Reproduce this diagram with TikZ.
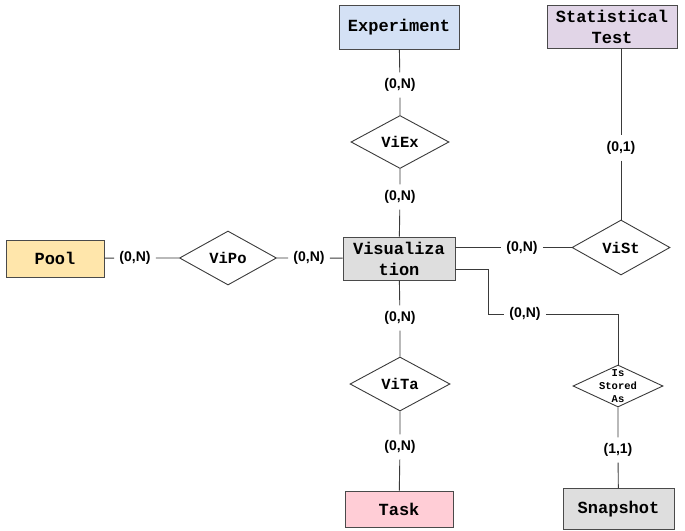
\documentclass[tikz,border=0pt]{standalone}
\usepackage{fontspec}
\setmainfont{Liberation Sans}
\newfontfamily\monob{Liberation Mono}
\usetikzlibrary{shapes.geometric}

\definecolor{expfill}{HTML}{D4E1F5}
\definecolor{statfill}{HTML}{E1D5E7}
\definecolor{poolfill}{HTML}{FFE6AB}
\definecolor{grayfill}{HTML}{DEDEDE}
\definecolor{taskfill}{HTML}{FFCDD6}
\definecolor{boxline}{HTML}{4A4A4A}
\definecolor{linecol}{HTML}{3A3A3A}

\begin{document}
\begin{tikzpicture}[x=1pt,y=-1pt,
  entity/.style={draw=boxline, line width=0.9pt, inner sep=0pt, align=center,
    font=\monob\bfseries\fontsize{17}{21}\selectfont},
  rel/.style={draw=linecol, shape=diamond, line width=0.9pt, inner sep=0pt,
    font=\monob\bfseries\fontsize{15.5}{19}\selectfont},
  card/.style={font=\bfseries\fontsize{14}{16}\selectfont, inner xsep=5pt, inner ysep=6pt},
  conn/.style={draw=linecol, line width=0.9pt}]

\useasboundingbox (0,0) rectangle (685,530);

% entities
\node[entity, fill=expfill, minimum width=120pt, minimum height=44pt] (exp) at (399,27) {Experiment};
\node[entity, fill=statfill, minimum width=130pt, minimum height=43pt] (stat) at (612,26.5) {Statistical\\Test};
\node[entity, fill=poolfill, minimum width=98pt, minimum height=37pt] (pool) at (55,258.5) {Pool};
\node[entity, fill=grayfill, minimum width=112pt, minimum height=43pt] (vis) at (399,258.5) {Visualiza\\tion};
\node[entity, fill=taskfill, minimum width=108pt, minimum height=36pt] (task) at (399,509) {Task};
\node[entity, fill=grayfill, minimum width=111pt, minimum height=41pt] (snap) at (618.5,509) {Snapshot};

% relationships
\node[rel, minimum width=98pt, minimum height=53pt] (viex) at (400,142) {ViEx};
\node[rel, minimum width=97pt, minimum height=54pt] (vipo) at (228,258) {ViPo};
\node[rel, minimum width=98pt, minimum height=55pt] (vist) at (621,247.5) {ViSt};
\node[rel, minimum width=100pt, minimum height=54pt] (vita) at (400,384) {ViTa};
\node[rel, minimum width=90pt, minimum height=42pt,
  label={[align=center, font=\monob\bfseries\fontsize{10.5}{13}\selectfont]center:Is\\Stored\\As}] (isa) at (618,386) {};

% cardinalities
\node[card] (c1) at (400,85) {(0,N)};
\node[card] (c2) at (400,197) {(0,N)};
\node[card] (c3) at (135,258) {(0,N)};
\node[card] (c4) at (309,258) {(0,N)};
\node[card] (c5) at (522,247.5) {(0,N)};
\node[card] (c6) at (621,148) {(0,1)};
\node[card] (c7) at (400,318) {(0,N)};
\node[card] (c8) at (400,447) {(0,N)};
\node[card] (c9) at (525,314) {(0,N)};
\node[card] (c10) at (618,450) {(1,1)};

% elbow of the snapshot connector
\coordinate (e1) at (488,269);
\coordinate (e2) at (488,314);

% connectors
\draw[conn] (exp) -- (c1) -- (viex) -- (c2) -- (vis);
\draw[conn] (pool) -- (c3) -- (vipo) -- (c4) -- (vis);
\draw[conn] (vis.east |- c5) -- (c5) -- (vist.west);
\draw[conn] (stat.south -| vist) -- (c6) -- (vist.north);
\draw[conn] (vis) -- (c7) -- (vita) -- (c8) -- (task);
\draw[conn] (vis.east |- e1) -- (e1) -- (e2) -- (c9.west);
\draw[conn] (c9.east) -- (c9 -| isa) -- (isa.north);
\draw[conn] (isa.south) -- (c10) -- (snap);
\end{tikzpicture}
\end{document}
